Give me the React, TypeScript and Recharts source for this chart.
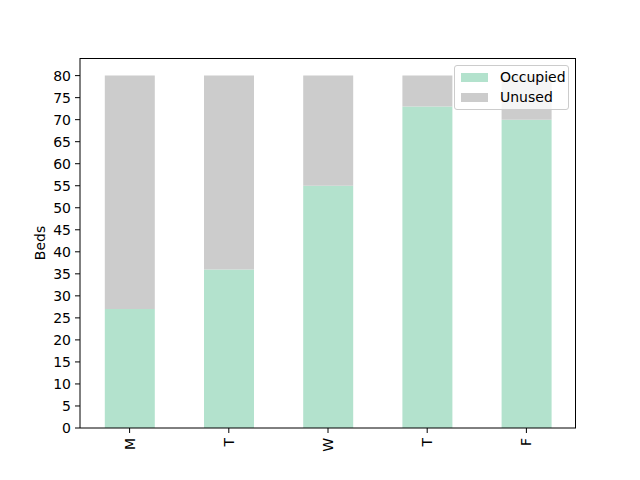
import React from 'react'
import { BarChart, Bar, XAxis, YAxis } from 'recharts'

const days = ['M', 'T', 'W', 'T', 'F']
const occupied = [27, 36, 55, 73, 70]
const unused = [53, 44, 25, 7, 10]
const yTicks = [0, 5, 10, 15, 20, 25, 30, 35, 40, 45, 50, 55, 60, 65, 70, 75, 80]

const data = days.map((day, i) => ({ day, occupied: occupied[i], unused: unused[i] }))

const FONT = '"DejaVu Sans", sans-serif'

function XTick(props: any) {
  const { x, y, payload } = props
  return (
    <text
      x={x}
      y={y}
      transform={`rotate(-90, ${x}, ${y})`}
      textAnchor="end"
      dominantBaseline="central"
      fontSize={14}
      fontFamily={FONT}
      fill="#000"
    >
      {payload.value}
    </text>
  )
}

function LegendBox() {
  const items = [
    { label: 'Occupied', color: '#b3e2cd' },
    { label: 'Unused', color: '#cccccc' }
  ]
  return (
    <div
      style={{
        position: 'absolute',
        left: 454,
        top: 65,
        width: 115,
        height: 45,
        boxSizing: 'border-box',
        border: '1px solid #cccccc',
        borderRadius: 3,
        background: 'rgba(255,255,255,0.8)',
        padding: '1px 0 0 6px',
        fontFamily: FONT,
        fontSize: 14,
        color: '#000'
      }}
    >
      {items.map(it => (
        <div key={it.label} style={{ display: 'flex', alignItems: 'center', height: 20 }}>
          <span style={{ display: 'inline-block', width: 27, height: 9, background: it.color, marginRight: 12 }} />
          <span>{it.label}</span>
        </div>
      ))}
    </div>
  )
}

export default function App() {
  return (
    <div style={{ position: 'absolute', left: 0, top: 0, width: 640, height: 480, background: '#fff' }}>
      <BarChart
        width={640}
        height={480}
        data={data}
        margin={{ top: 58, right: 64, left: 30, bottom: 22 }}
        barCategoryGap="25%"
      >
        <XAxis
          dataKey="day"
          height={30}
          tick={<XTick />}
          tickSize={5}
          tickMargin={5}
          stroke="#000"
          tickLine={{ stroke: '#000' }}
          axisLine={{ stroke: '#000' }}
        />
        <YAxis
          domain={[0, 84]}
          ticks={yTicks}
          interval={0}
          width={50}
          tickSize={5}
          tickMargin={4}
          tick={{ fontSize: 14, fontFamily: FONT, fill: '#000' }}
          tickLine={{ stroke: '#000' }}
          axisLine={{ stroke: '#000' }}
          label={{ value: 'Beds', angle: -90, position: 'insideLeft', offset: 0, dx: 10, style: { fontSize: 14, fontFamily: FONT, fill: '#000', textAnchor: 'middle' } }}
        />
        <Bar dataKey="occupied" name="Occupied" stackId="a" fill="#b3e2cd" isAnimationActive={false} />
        <Bar dataKey="unused" name="Unused" stackId="a" fill="#cccccc" isAnimationActive={false} />
      </BarChart>
      {/* top/right spines */}
      <div
        style={{
          position: 'absolute',
          left: 80,
          top: 58,
          width: 496,
          height: 370,
          boxSizing: 'border-box',
          borderTop: '1px solid #000',
          borderRight: '1px solid #000',
          pointerEvents: 'none'
        }}
      />
      <LegendBox />
    </div>
  )
}
